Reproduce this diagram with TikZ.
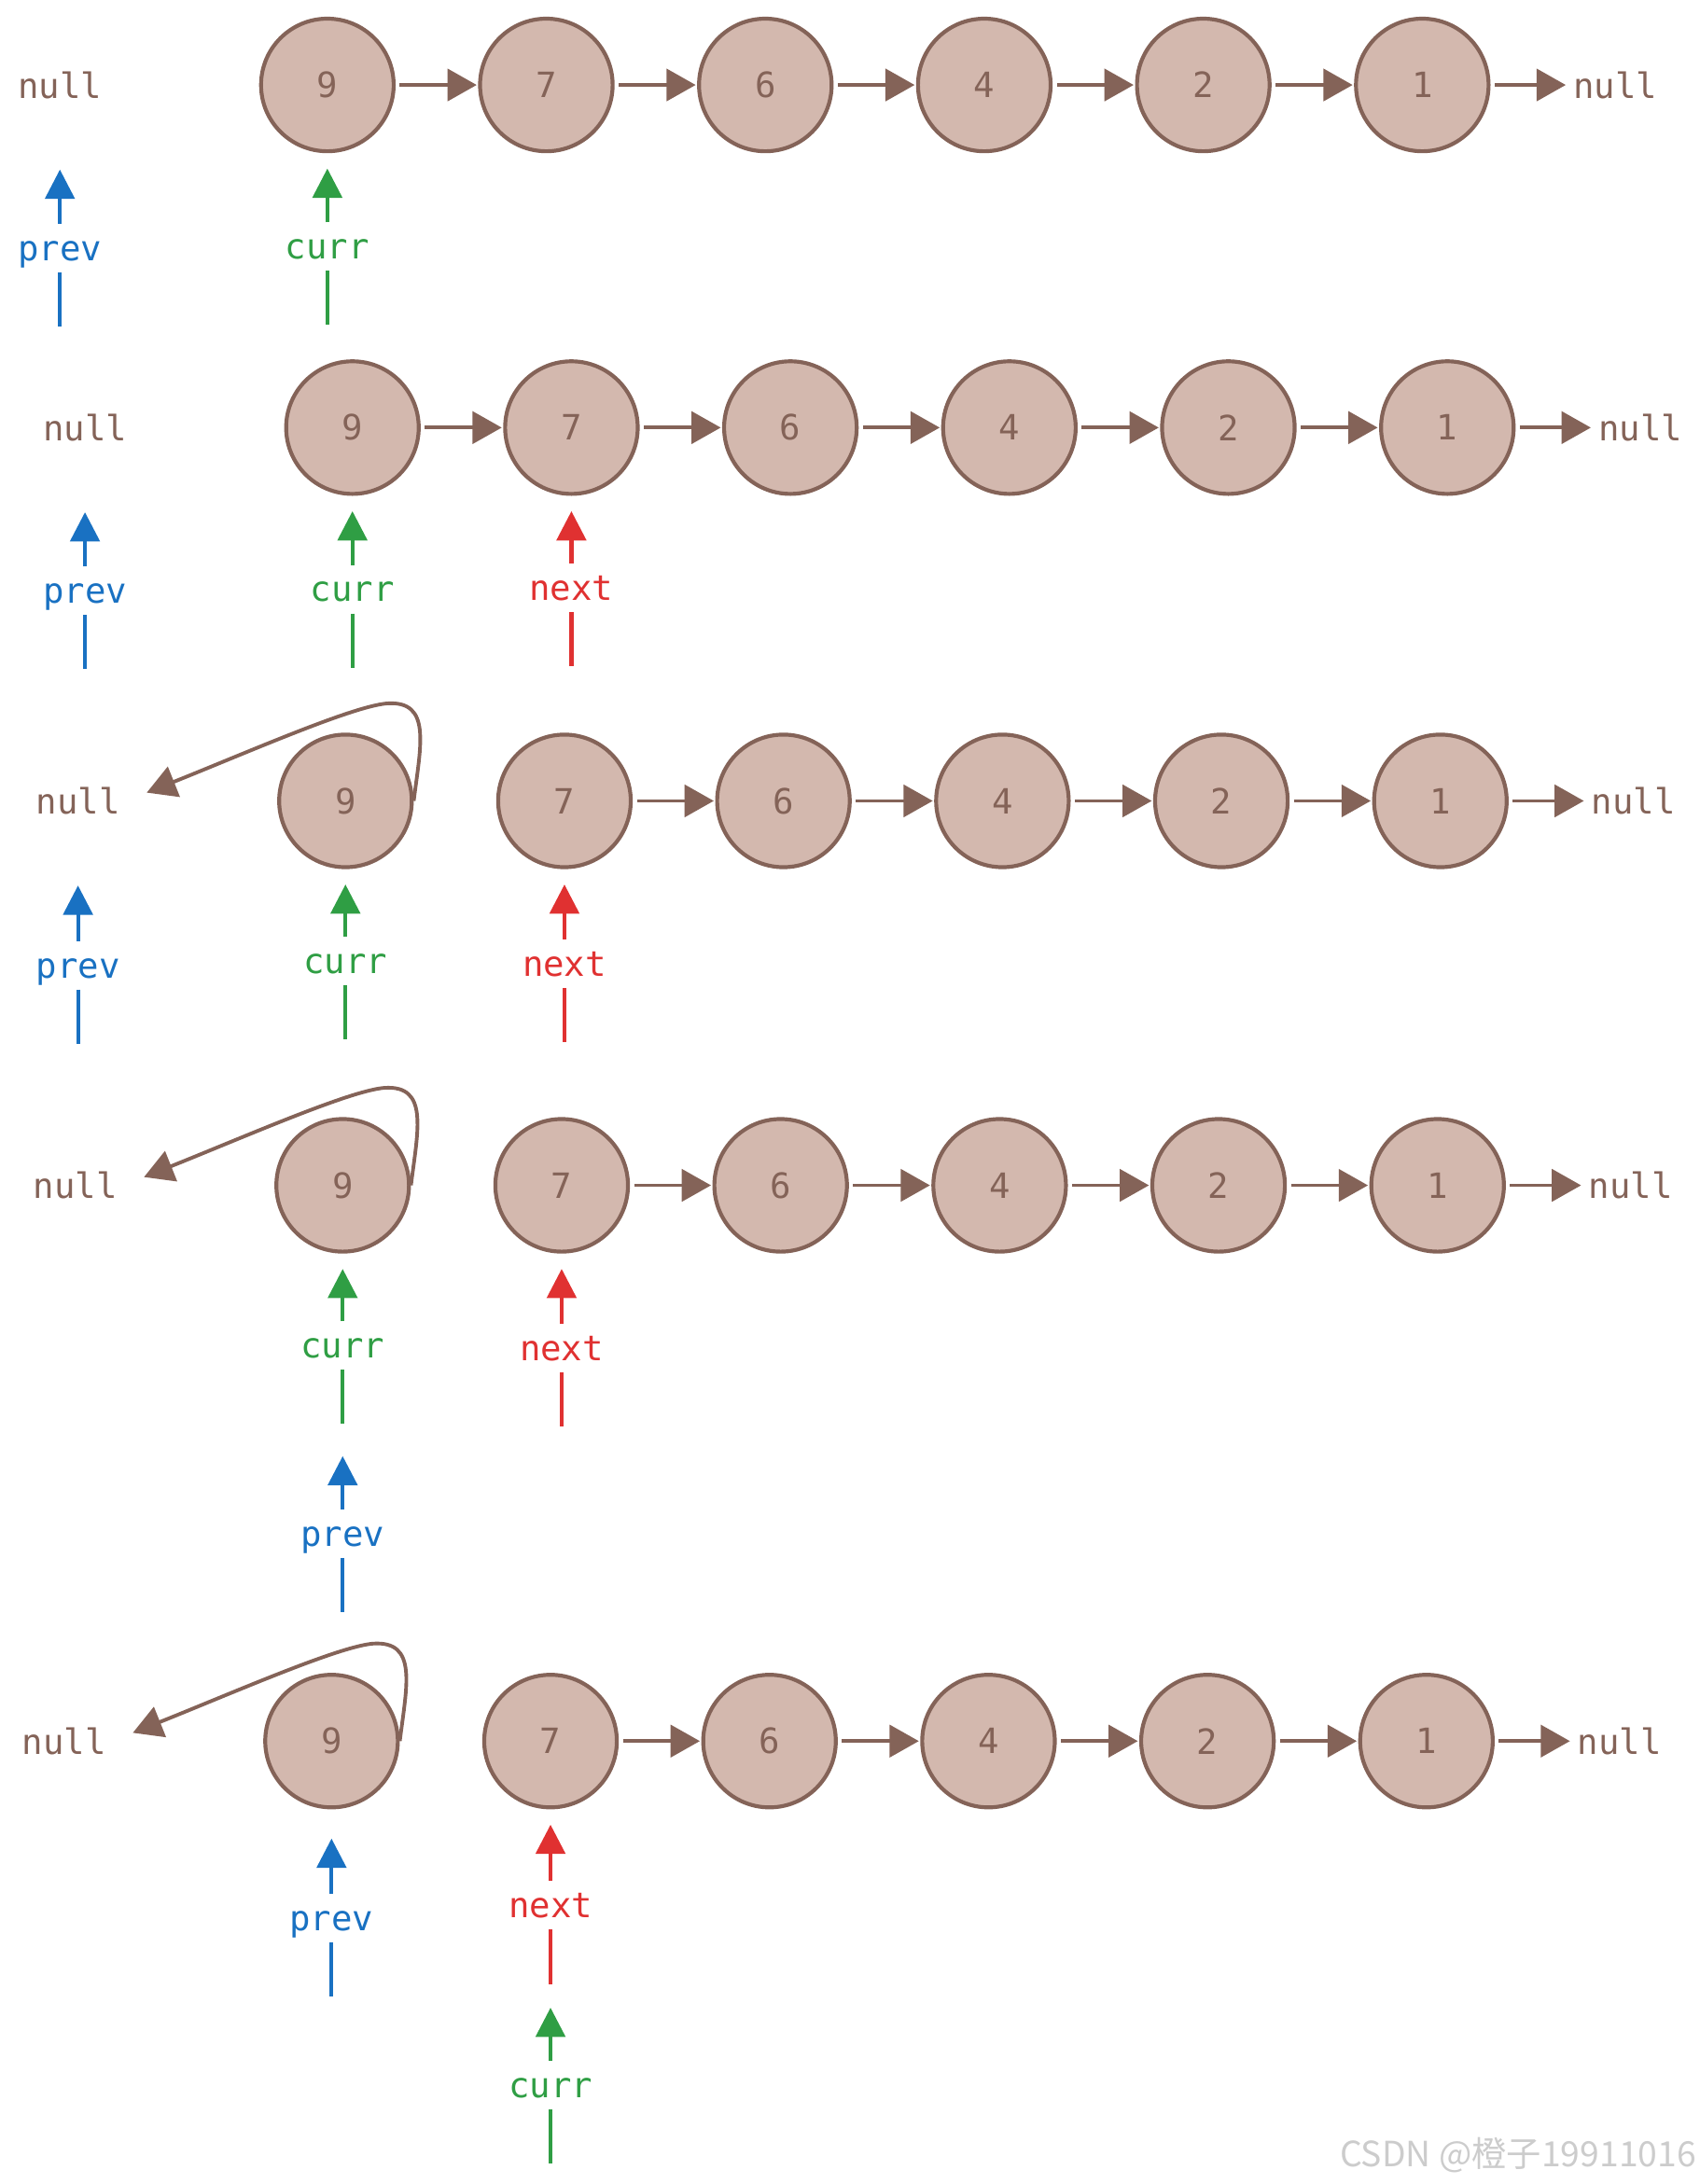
\documentclass[tikz,border=0pt]{standalone}
\usepackage{fontspec}
\usepackage{tikz}
\usepackage{xcolor}
\usetikzlibrary{arrows.meta}
\setmonofont{DejaVu Sans Mono}
\newfontfamily\cjkfont{Noto Sans CJK SC}
\definecolor{nodebrown}{HTML}{846358}
\definecolor{nodefill}{HTML}{D3B8AE}
\definecolor{prevblue}{HTML}{1971C2}
\definecolor{currgreen}{HTML}{2F9E44}
\definecolor{nextred}{HTML}{E03131}

\begin{document}
\begin{tikzpicture}[x=0.5pt, y=-0.5pt,
    font=\ttfamily\fontsize{12.5}{15}\selectfont,
    listnode/.style={circle, draw=nodebrown, fill=nodefill, line width=1.4pt,
        minimum size=47.6pt, inner sep=0pt, text=nodebrown},
    nulltext/.style={inner sep=2pt, text=nodebrown},
    link/.style={-{Triangle[length=10.5pt,width=11.5pt]}, draw=nodebrown,
        line width=1.3pt, shorten <=1.5pt, shorten >=0.5pt},
    ptrlabel/.style={inner sep=0pt, minimum height=17pt, text height=9pt, text depth=0pt},
    ptr/.style={-{Triangle[length=10.5pt,width=10.5pt]}, line width=1.4pt, shorten >=5.5pt},
    tonull/.style={shorten >=23.3pt},
    tail/.style={line width=1.4pt}]
    \useasboundingbox (0,0) rectangle (1220,1568);

    \foreach \r/\x/\y in {1/235/61, 2/253/307, 3/248/575, 4/246/851, 5/238/1250} {
        \foreach \v [count=\i] in {9,7,6,4,2,1}
            \node[listnode] (r\r-\i) at ({\x+157.2*(\i-1)},\y) {\v};
        \node[nulltext] (r\r-l) at ({\x-192},\y) {null};
        \node[nulltext] (r\r-r) at ({\x+924.5},\y) {null};
        \foreach \i [evaluate=\i as \j using int(\i+1)] in {2,...,5}
            \draw[link] (r\r-\i) -- (r\r-\j);
        \draw[link] (r\r-6) -- (r\r-r);
    }
    \draw[link] (r1-1) -- (r1-2);
    \draw[link] (r2-1) -- (r2-2);

    \foreach \r/\x/\y in {3/248/575, 4/246/851, 5/238/1250} {
        \draw[link, shorten <=0pt, shorten >=8pt] (r\r-1.east)
            .. controls ({\x+54},{\y-40}) and ({\x+62},{\y-72}) .. ({\x+30},{\y-70})
            .. controls ({\x+5},{\y-68}) and ({\x-70},{\y-35}) .. (r\r-l.east);
    }

    \node[ptrlabel, text=prevblue] (r1-prev) at (r1-l |- 0,178) {prev};
    \draw[ptr, tonull, prevblue] (r1-prev) -- (r1-l);
    \draw[tail, prevblue] (r1-prev.south) -- ++(0,39);
    \node[ptrlabel, text=currgreen] (r1-curr) at (r1-1 |- 0,177) {curr};
    \draw[ptr, currgreen] (r1-curr) -- (r1-1);
    \draw[tail, currgreen] (r1-curr.south) -- ++(0,39);

    \node[ptrlabel, text=prevblue] (r2-prev) at (r2-l |- 0,424) {prev};
    \draw[ptr, tonull, prevblue] (r2-prev) -- (r2-l);
    \draw[tail, prevblue] (r2-prev.south) -- ++(0,39);
    \node[ptrlabel, text=currgreen] (r2-curr) at (r2-1 |- 0,423) {curr};
    \draw[ptr, currgreen] (r2-curr) -- (r2-1);
    \draw[tail, currgreen] (r2-curr.south) -- ++(0,39);
    \node[ptrlabel, text=nextred] (r2-next) at (r2-2 |- 0,422) {next};
    \draw[ptr, nextred] (r2-next) -- (r2-2);
    \draw[tail, nextred] (r2-next.south) -- ++(0,39);

    \node[ptrlabel, text=prevblue] (r3-prev) at (r3-l |- 0,693) {prev};
    \draw[ptr, tonull, prevblue] (r3-prev) -- (r3-l);
    \draw[tail, prevblue] (r3-prev.south) -- ++(0,39);
    \node[ptrlabel, text=currgreen] (r3-curr) at (r3-1 |- 0,690) {curr};
    \draw[ptr, currgreen] (r3-curr) -- (r3-1);
    \draw[tail, currgreen] (r3-curr.south) -- ++(0,39);
    \node[ptrlabel, text=nextred] (r3-next) at (r3-2 |- 0,692) {next};
    \draw[ptr, nextred] (r3-next) -- (r3-2);
    \draw[tail, nextred] (r3-next.south) -- ++(0,39);

    \node[ptrlabel, text=currgreen] (r4-curr) at (r4-1 |- 0,966) {curr};
    \draw[ptr, currgreen] (r4-curr) -- (r4-1);
    \draw[tail, currgreen] (r4-curr.south) -- ++(0,39) coordinate (r4-curr-end);
    \node[ptrlabel, text=nextred] (r4-next) at (r4-2 |- 0,968) {next};
    \draw[ptr, nextred] (r4-next) -- (r4-2);
    \draw[tail, nextred] (r4-next.south) -- ++(0,39);
    \node[ptrlabel, text=prevblue] (r4-prev) at (r4-1 |- 0,1101) {prev};
    \draw[ptr, prevblue, shorten >=11.5pt] (r4-prev) -- (r4-curr-end);
    \draw[tail, prevblue] (r4-prev.south) -- ++(0,39);

    \node[ptrlabel, text=prevblue] (r5-prev) at (r5-1 |- 0,1377) {prev};
    \draw[ptr, prevblue, shorten >=10.5pt] (r5-prev) -- (r5-1);
    \draw[tail, prevblue] (r5-prev.south) -- ++(0,39);
    \node[ptrlabel, text=nextred] (r5-next) at (r5-2 |- 0,1368) {next};
    \draw[ptr, nextred] (r5-next) -- (r5-2);
    \draw[tail, nextred] (r5-next.south) -- ++(0,39) coordinate (r5-next-end);
    \node[ptrlabel, text=currgreen] (r5-curr) at (r5-2 |- 0,1497) {curr};
    \draw[ptr, currgreen, shorten >=8.5pt] (r5-curr) -- (r5-next-end);
    \draw[tail, currgreen] (r5-curr.south) -- ++(0,39);

    \node[anchor=east, inner sep=0pt, text=gray!40,
        font=\cjkfont\fontsize{12.5}{15}\selectfont] (mark) at (1218,1547) {CSDN @橙子19911016};
\end{tikzpicture}
\end{document}
